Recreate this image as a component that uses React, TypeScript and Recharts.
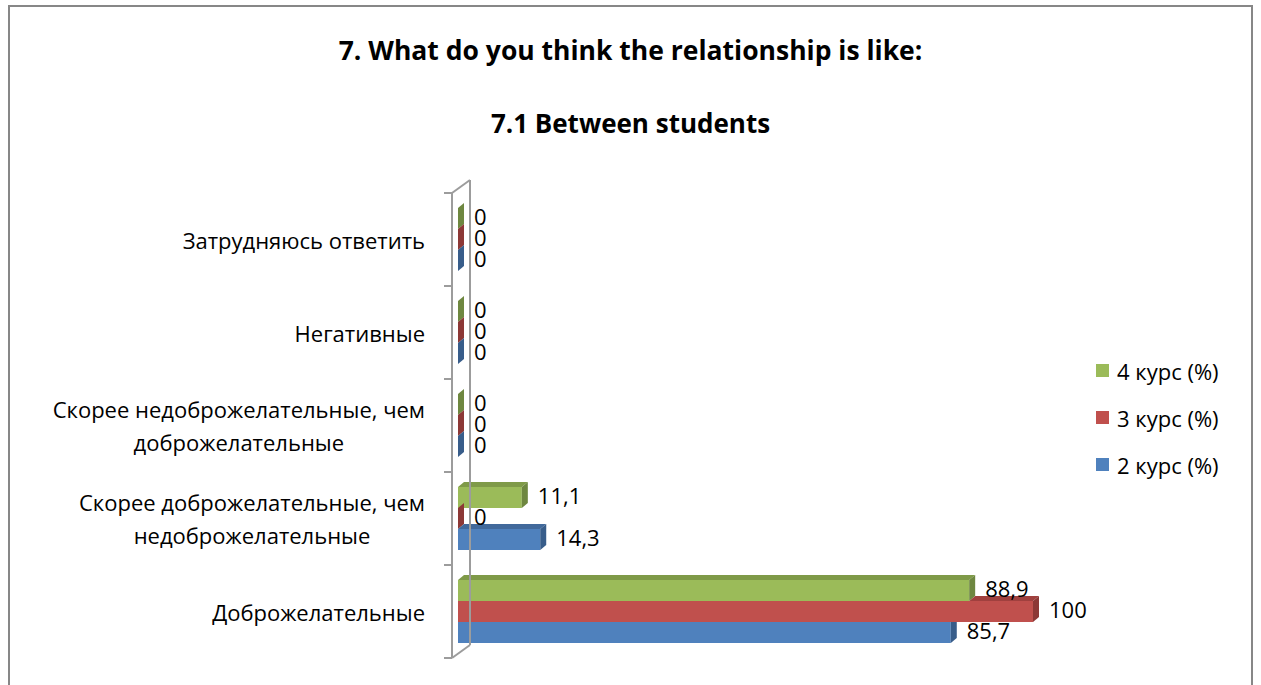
import { BarChart, Bar, XAxis, YAxis, Legend, LabelList, ReferenceLine } from "recharts";

const categories = [
  "Затрудняюсь ответить",
  "Негативные",
  "Скорее недоброжелательные, чем доброжелательные",
  "Скорее доброжелательные, чем недоброжелательные",
  "Доброжелательные",
];
const course4 = [0, 0, 0, 11.1, 88.9];
const course3 = [0, 0, 0, 0, 100];
const course2 = [0, 0, 0, 14.3, 85.7];
const seriesNames = ["4 курс (%)", "3 курс (%)", "2 курс (%)"];

const data = categories.map((name, i) => ({
  name,
  c4: course4[i],
  c3: course3[i],
  c2: course2[i],
}));

const FONT = "'Open Sans', 'Noto Sans', sans-serif";
const TICK_SIZE = 22;

const faces: Record<string, { front: string; top: string; side: string }> = {
  c4: { front: "#9BBB59", top: "#7F9A48", side: "#6E8740" },
  c3: { front: "#C0504D", top: "#A0403E", side: "#8C3836" },
  c2: { front: "#4F81BD", top: "#41699B", side: "#385D8A" },
};
const aboveKey: Record<string, string | null> = { c4: null, c3: "c4", c2: "c3" };

let ctx: CanvasRenderingContext2D | null = null;
function measure(text: string) {
  if (!ctx) ctx = document.createElement("canvas").getContext("2d");
  if (!ctx) return text.length * 11;
  ctx.font = `${TICK_SIZE}px ${FONT}`;
  return ctx.measureText(text).width;
}

function wrap(text: string, maxWidth: number) {
  const words = text.split(" ");
  const lines: string[] = [];
  let cur = "";
  for (const w of words) {
    const next = cur ? cur + " " + w : w;
    if (cur && measure(next) > maxWidth) {
      lines.push(cur);
      cur = w;
    } else cur = next;
  }
  if (cur) lines.push(cur);
  return lines;
}

function CategoryTick(props: any) {
  const { x, y, payload } = props;
  const lines = wrap(payload.value, 420);
  const blockW = Math.max(...lines.map(measure));
  const cx = x - blockW / 2;
  const lh = 33;
  const startY = y - ((lines.length - 1) * lh) / 2;
  return (
    <g>
      {lines.map((l, i) => (
        <text key={i} x={cx} y={startY + i * lh} textAnchor="middle" dominantBaseline="central"
          fontSize={TICK_SIZE} fontFamily={FONT} fill="#000">
          {l}
        </text>
      ))}
    </g>
  );
}

function makeBar3D(key: string) {
  return (props: any) => {
    const { x, y, width, height, payload } = props;
    const c = faces[key];
    const dx = 6;
    const dy = -5;
    const w = Math.max(0, width);
    const value = payload[key];
    const ak = aboveKey[key];
    let topStart = 0;
    let sideCovered = false;
    if (ak && value > 0) {
      const aboveW = (w * payload[ak]) / value;
      topStart = Math.min(w, aboveW);
      sideCovered = aboveW > w;
    }
    const sTop = sideCovered ? y : y + dy;
    return (
      <g>
        {w > 0 && <rect x={x} y={y} width={w} height={height} fill={c.front} />}
        {w > 0 && topStart < w && (
          <polygon
            points={`${x + topStart},${y} ${x + topStart + dx},${y + dy} ${x + w + dx},${y + dy} ${x + w},${y}`}
            fill={c.top}
          />
        )}
        <polygon
          points={`${x + w},${y} ${x + w + dx},${sTop} ${x + w + dx},${y + height + dy} ${x + w},${y + height}`}
          fill={c.side}
        />
      </g>
    );
  };
}

function Wall(props: any) {
  const { x1, y1, y2 } = props;
  const top = Math.min(y1, y2);
  const bottom = Math.max(y1, y2);
  const band = (bottom - top) / categories.length;
  const l = x1 - 6;
  const r = x1 + 12;
  const d = -13;
  return (
    <g stroke="#9c9c9c" strokeWidth={2} fill="none">
      <line x1={l} y1={top} x2={l} y2={bottom} />
      <line x1={r} y1={top + d} x2={r} y2={bottom + d} />
      <line x1={l} y1={top} x2={r} y2={top + d} />
      <line x1={l} y1={bottom} x2={r} y2={bottom + d} />
      {categories.map((_, i) => (
        <line key={i} x1={l - 8} y1={top + i * band} x2={l} y2={top + i * band} />
      ))}
      <line x1={l - 8} y1={bottom} x2={l} y2={bottom} />
    </g>
  );
}

function LegendBox(props: any) {
  const items = [...(props.payload || [])].sort((a: any, b: any) =>
    seriesNames.indexOf(a.value) - seriesNames.indexOf(b.value)
  );
  return (
    <div style={{ fontFamily: FONT }}>
      {items.map((p: any, i: number) => (
        <div key={i} style={{ display: "flex", alignItems: "center", height: 47 }}>
          <span style={{ width: 13, height: 13, background: p.color, display: "inline-block", marginRight: 8 }} />
          <span style={{ fontSize: 22, color: "#000" }}>{p.value}</span>
        </div>
      ))}
    </div>
  );
}

const fmt = (v: number) => String(v).replace(".", ",");

function ValueLabel(props: any) {
  const { x, y, width, height, value } = props;
  return (
    <text x={x + Math.max(0, width) + 16} y={y + height / 2 - 3} dominantBaseline="central"
      fontSize={22} fontFamily={FONT} fill="#000">
      {fmt(value)}
    </text>
  );
}

export default function App() {
  return (
    <>
      <style>{"body{margin:0;overflow:hidden}"}</style>
      <div
        style={{
          position: "absolute",
          top: 5,
          left: 8,
          width: 1245,
          height: 688,
          border: "2px solid #878787",
          boxSizing: "border-box",
          fontFamily: FONT,
          background: "#fff",
        }}
      >
        <div style={{ position: "absolute", top: 27, left: 0, width: "100%", textAlign: "center", fontSize: 26.5, fontWeight: 700, lineHeight: "32px" }}>
          7. What do you think the relationship is like:
        </div>
        <div style={{ position: "absolute", top: 100, left: 0, width: "100%", textAlign: "center", fontSize: 26, fontWeight: 700, lineHeight: "32px" }}>
          7.1 Between students
        </div>
        <div style={{ position: "absolute", top: 0, left: 0 }}>
          <BarChart
            width={1241}
            height={676}
            data={data}
            layout="vertical"
            margin={{ top: 186, right: 218, bottom: 25, left: 0 }}
            barGap={0}
            barSize={21}
          >
            <XAxis type="number" domain={[0, 100]} hide />
            <YAxis
              type="category"
              dataKey="name"
              width={448}
              axisLine={false}
              tickLine={false}
              tickMargin={27}
              tick={<CategoryTick />}
              interval={0}
            />
            <ReferenceLine x={0} shape={<Wall />} />
            {(["c4", "c3", "c2"] as const).map((k, i) => (
              <Bar key={k} dataKey={k} name={seriesNames[i]} fill={faces[k].front} isAnimationActive={false} shape={makeBar3D(k)}>
                <LabelList dataKey={k} content={<ValueLabel />} />
              </Bar>
            ))}
            <Legend
              layout="vertical"
              align="center"
              verticalAlign="middle"
              content={<LegendBox />}
              wrapperStyle={{ left: 1086, top: 340, width: 150 }}
            />
          </BarChart>
        </div>
      </div>
    </>
  );
}
